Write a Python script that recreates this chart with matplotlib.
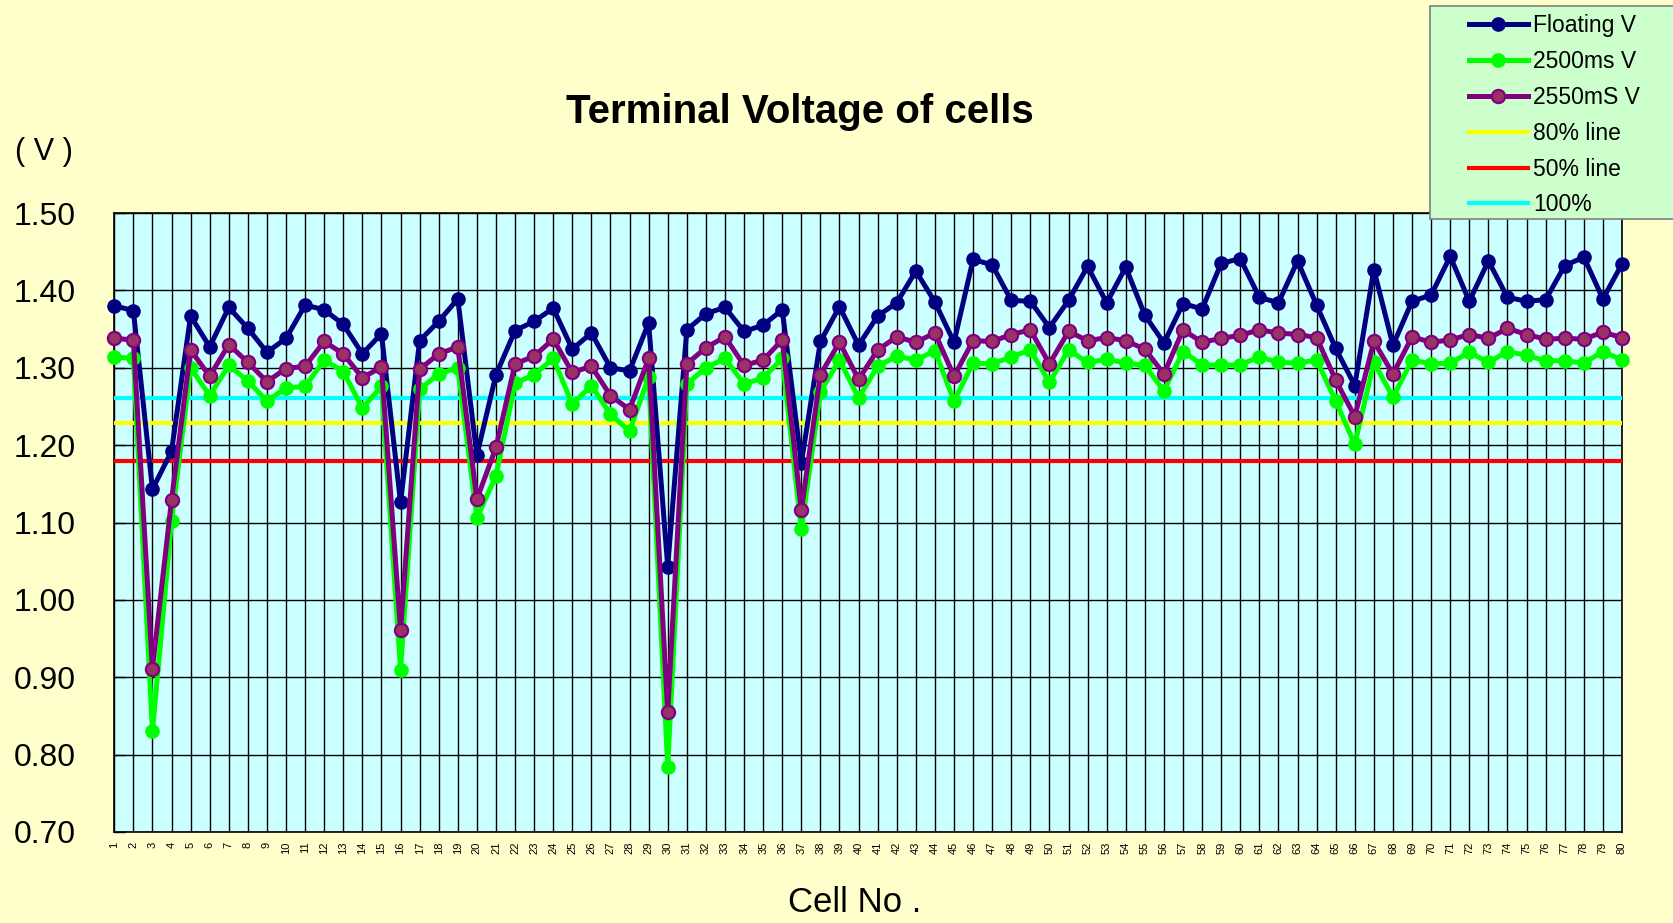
import matplotlib
matplotlib.use("Agg")
import matplotlib.pyplot as plt
from matplotlib.ticker import MultipleLocator, FormatStrFormatter
from matplotlib.patches import Rectangle

cells = list(range(1, 81))

floating_v = [1.380, 1.374, 1.143, 1.192, 1.367, 1.327, 1.378, 1.351, 1.320, 1.338,
              1.381, 1.375, 1.356, 1.318, 1.344, 1.126, 1.335, 1.360, 1.389, 1.187,
              1.291, 1.348, 1.360, 1.377, 1.324, 1.345, 1.300, 1.296, 1.358, 1.043,
              1.349, 1.370, 1.378, 1.347, 1.355, 1.375, 1.177, 1.334, 1.379, 1.329,
              1.367, 1.384, 1.425, 1.385, 1.333, 1.440, 1.433, 1.387, 1.386, 1.352,
              1.387, 1.431, 1.384, 1.430, 1.368, 1.332, 1.383, 1.376, 1.435, 1.441,
              1.391, 1.384, 1.438, 1.381, 1.325, 1.277, 1.427, 1.329, 1.386, 1.394,
              1.444, 1.386, 1.438, 1.391, 1.386, 1.388, 1.432, 1.443, 1.389, 1.434]

v_2500ms = [1.314, 1.312, 0.830, 1.102, 1.300, 1.264, 1.303, 1.283, 1.257, 1.274,
            1.276, 1.310, 1.295, 1.248, 1.276, 0.910, 1.272, 1.292, 1.300, 1.106,
            1.160, 1.280, 1.291, 1.312, 1.253, 1.277, 1.240, 1.218, 1.288, 0.784,
            1.279, 1.300, 1.312, 1.279, 1.287, 1.312, 1.091, 1.269, 1.310, 1.261,
            1.302, 1.315, 1.310, 1.322, 1.257, 1.306, 1.305, 1.314, 1.323, 1.281,
            1.323, 1.307, 1.311, 1.306, 1.303, 1.270, 1.321, 1.304, 1.303, 1.304,
            1.314, 1.307, 1.306, 1.310, 1.257, 1.201, 1.307, 1.262, 1.310, 1.305,
            1.306, 1.320, 1.307, 1.321, 1.316, 1.309, 1.309, 1.306, 1.321, 1.310]

v_2550ms = [1.338, 1.336, 0.911, 1.129, 1.323, 1.289, 1.330, 1.307, 1.282, 1.299,
            1.302, 1.334, 1.318, 1.287, 1.301, 0.961, 1.298, 1.318, 1.327, 1.130,
            1.197, 1.305, 1.315, 1.337, 1.294, 1.302, 1.264, 1.246, 1.312, 0.855,
            1.305, 1.326, 1.340, 1.303, 1.310, 1.336, 1.116, 1.291, 1.333, 1.285,
            1.323, 1.340, 1.333, 1.345, 1.289, 1.335, 1.334, 1.343, 1.349, 1.305,
            1.347, 1.335, 1.339, 1.335, 1.324, 1.292, 1.349, 1.333, 1.338, 1.342,
            1.349, 1.345, 1.343, 1.339, 1.284, 1.237, 1.334, 1.292, 1.340, 1.333,
            1.336, 1.343, 1.338, 1.351, 1.343, 1.337, 1.338, 1.337, 1.346, 1.339]

line_80 = 1.229
line_50 = 1.179
line_100 = 1.261

plt.rcParams['font.family'] = ['Liberation Sans', 'DejaVu Sans']

fig = plt.figure(figsize=(16.73, 9.23), dpi=100, facecolor='#FFFFCC')
ax = fig.add_axes([0.0683, 0.0986, 0.9012, 0.6706])
ax.set_facecolor('#CCFFFF')

ax.plot(cells, floating_v, color='#000080', lw=3.6, marker='o', ms=9.5,
        mfc='#000080', mec='#000080', label='Floating V', zorder=4, clip_on=False)
ax.plot(cells, v_2500ms, color='#00FF00', lw=3.6, marker='o', ms=9.5,
        mfc='#00FF00', mec='#00FF00', label='2500ms V', zorder=5, clip_on=False)
ax.plot(cells, v_2550ms, color='#800080', lw=3.6, marker='o', ms=9.5,
        mfc='#993366', mec='#800080', mew=1.6, label='2550mS V', zorder=6, clip_on=False)
ax.axhline(line_80, color='#FFFF00', lw=3, label='80% line', zorder=3)
ax.axhline(line_50, color='#FF0000', lw=3, label='50% line', zorder=3)
ax.axhline(line_100, color='#00FFFF', lw=3, label='100%', zorder=3)

ax.set_xlim(1, 80)
ax.set_ylim(0.70, 1.50)
ax.set_xticks(cells)
ax.set_xticklabels([str(c) for c in cells], rotation=90, fontsize=8)
ax.yaxis.set_major_locator(MultipleLocator(0.1))
ax.yaxis.set_major_formatter(FormatStrFormatter('%.2f'))
ax.tick_params(axis='x', length=0, pad=7)
ax.tick_params(axis='y', length=8, direction='in', labelsize=23, pad=28, width=1)
ax.grid(True, color='black', lw=1.0, zorder=1)
ax.set_axisbelow(True)
for s in ax.spines.values():
    s.set_color('black')
    s.set_linewidth(1.2)

fig.text(0.478, 0.879, 'Terminal Voltage of cells', ha='center', va='center',
         fontsize=29, fontweight='bold')
fig.text(0.026, 0.835, '( V )', ha='center', va='center', fontsize=22)
fig.text(0.511, 0.022, 'Cell No .', ha='center', va='center', fontsize=25)

# legend box
fig.patches.append(Rectangle((0.8548, 0.7627), 0.2, 0.2308, transform=fig.transFigure,
                             facecolor='#CCFFCC', edgecolor='#808080', lw=1.2,
                             zorder=10))
leg = fig.legend(loc='upper left', bbox_to_anchor=(0.878, 0.9845), fontsize=16.5,
                 frameon=False, handlelength=2.57, labelspacing=0.56,
                 handletextpad=0.23, borderpad=0, borderaxespad=0)
leg.set_zorder(11)

fig.savefig('out.png', dpi=100, facecolor=fig.get_facecolor())
